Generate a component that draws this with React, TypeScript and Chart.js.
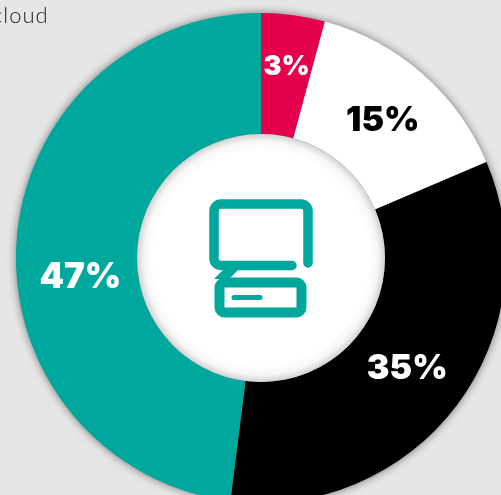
import React, { useEffect, useRef } from "react";
import { Chart, registerables } from "chart.js";

Chart.register(...registerables);

const categories = ["A", "B", "C", "D"];
// Slice sizes as drawn (the printed labels differ slightly from the drawn angles)
const sliceValues = [4.2, 14.4, 33.4, 48.0];
const sliceLabels = ["3%", "15%", "35%", "47%"];
const sliceColors = ["#e4004b", "#ffffff", "#000000", "#00a79d"];
const labelColors = ["#ffffff", "#000000", "#ffffff", "#ffffff"];
const labelShifts = [[0, 2], [1, 2], [1, 1], [1, 31]];
const labelRadius = [195, 184, 182, 182];
const labelSizes = [27, 34, 34, 35];

const ringPlugin = {
  id: "ringDecor",
  beforeDatasetsDraw(chart: any) {
    const a = chart.getDatasetMeta(0).data[0];
    const ctx = chart.ctx;
    ctx.save();
    ctx.shadowColor = "rgba(0,0,0,0.55)";
    ctx.shadowBlur = 10;
    ctx.fillStyle = "#888";
    ctx.beginPath();
    ctx.arc(a.x, a.y, a.outerRadius - 0.5, 0, Math.PI * 2);
    ctx.fill();
    ctx.restore();
  },
  afterDatasetsDraw(chart: any) {
    const meta = chart.getDatasetMeta(0);
    const a = meta.data[0];
    const ctx = chart.ctx;
    ctx.save();
    const r = a.innerRadius;
    const g = ctx.createRadialGradient(a.x, a.y, r - 16, a.x, a.y, r);
    g.addColorStop(0, "#ffffff");
    g.addColorStop(0.55, "#f6f6f6");
    g.addColorStop(1, "#d2d2d2");
    ctx.fillStyle = g;
    ctx.beginPath();
    ctx.arc(a.x, a.y, r, 0, Math.PI * 2);
    ctx.fill();
    ctx.restore();

    ctx.save();
    ctx.textAlign = "center";
    ctx.textBaseline = "middle";
    meta.data.forEach((arc: any, i: number) => {
      const mid = (arc.startAngle + arc.endAngle) / 2;
      const x = arc.x + Math.cos(mid) * labelRadius[i] + labelShifts[i][0];
      const y = arc.y + Math.sin(mid) * labelRadius[i] + labelShifts[i][1];
      ctx.font = `900 ${labelSizes[i]}px Inter, sans-serif`;
      ctx.fillStyle = labelColors[i];
      ctx.fillText(sliceLabels[i], x, y);
    });
    ctx.restore();
  },
};

export default function App() {
  const ref = useRef<HTMLCanvasElement>(null);
  useEffect(() => {
    const chart = new Chart(ref.current!, {
      type: "doughnut",
      data: {
        labels: categories,
        datasets: [
          {
            data: sliceValues,
            backgroundColor: sliceColors,
            borderWidth: 0,
          },
        ],
      },
      options: {
        responsive: false,
        animation: false,
        cutout: "50.6%",
        layout: { padding: 13 },
        plugins: { legend: { display: false }, tooltip: { enabled: false } },
      },
      plugins: [ringPlugin],
    });
    return () => chart.destroy();
  }, []);

  return (
    <div
      style={{
        position: "fixed",
        left: 0,
        top: 0,
        width: 501,
        height: 495,
        overflow: "hidden",
        background: "#e6e6e6",
      }}
    >
      <canvas
        ref={ref}
        width={522}
        height={516}
        style={{ position: "absolute", left: 0, top: 0, width: 522, height: 516 }}
      />
      <div
        style={{
          position: "absolute",
          left: -8,
          top: 1,
          font: "300 22px Lato, sans-serif",
          letterSpacing: 1,
          color: "#222222",
          whiteSpace: "nowrap",
        }}
      >
        cloud
      </div>
      <svg
        width={501}
        height={495}
        style={{ position: "absolute", left: 0, top: 0 }}
        fill="none"
        stroke="#00a79d"
      >
        <path
          d="M292 265.5H221a7 7 0 0 1-7-7V211a7 7 0 0 1 7-7h80a7 7 0 0 1 7 7v52"
          strokeWidth={9.5}
          strokeLinecap="round"
        />
        <path d="M224 269h15l-10 10h-15z" fill="#00a79d" stroke="none" />
        <rect x={219.5} y={282.5} width={82} height={30} rx={5} strokeWidth={10} />
        <path d="M234 297.5h26" strokeWidth={5} strokeLinecap="round" />
      </svg>
    </div>
  );
}
